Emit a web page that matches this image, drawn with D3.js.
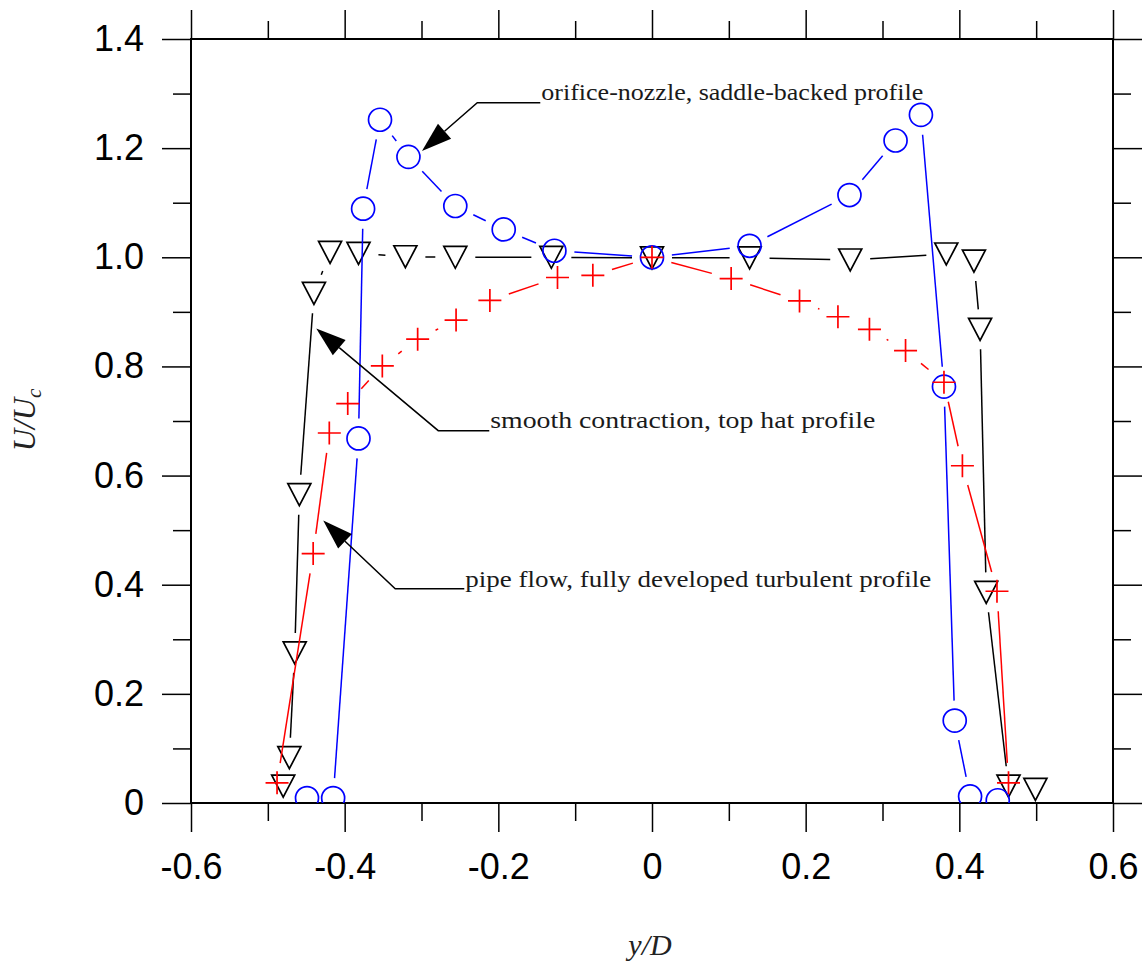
<!DOCTYPE html>
<html><head><meta charset="utf-8">
<script src="https://cdn.jsdelivr.net/npm/d3@7"></script>
<style>body{margin:0;background:#fff}</style>
</head><body>
<svg id="c" width="1146" height="962"></svg>
<script>
// ---- data ----
const orificeX = [-0.449,-0.415,-0.382,-0.376,-0.354,-0.317,-0.256,-0.193,-0.127,0.0,0.127,0.257,0.317,0.350,0.380,0.394,0.414,0.450];
const orificeU = [0.009,0.009,0.668,1.089,1.252,1.184,1.094,1.051,1.012,1.0,1.021,1.114,1.214,1.261,0.763,0.151,0.012,0.005];
const contractionX = [-0.480,-0.472,-0.465,-0.459,-0.440,-0.419,-0.382,-0.321,-0.256,-0.131,0.0,0.127,0.258,0.383,0.419,0.427,0.435,0.464,0.499];
const contractionU = [0.031,0.083,0.275,0.565,0.934,1.009,1.007,1.001,1.0,1.0,0.999,0.999,0.995,1.006,0.993,0.868,0.386,0.031,0.025];
const pipeX = [-0.488,-0.441,-0.420,-0.396,-0.351,-0.305,-0.255,-0.211,-0.123,-0.077,0.0,0.103,0.192,0.242,0.283,0.330,0.380,0.404,0.449,0.464];
const pipeU = [0.037,0.457,0.678,0.732,0.801,0.850,0.885,0.921,0.963,0.967,1.0,0.961,0.920,0.891,0.868,0.829,0.771,0.618,0.388,0.037];
const xTicks = [-0.6,-0.4,-0.2,0,0.2,0.4,0.6];
const xTickLabels = ["-0.6","-0.4","-0.2","0","0.2","0.4","0.6"];
const xMinor = [-0.5,-0.3,-0.1,0.1,0.3,0.5];
const yTicks = [0,0.2,0.4,0.6,0.8,1.0,1.2,1.4];
const yTickLabels = ["0","0.2","0.4","0.6","0.8","1.0","1.2","1.4"];
const yMinor = [0.1,0.3,0.5,0.7,0.9,1.1,1.3];
const annText = ["orifice-nozzle, saddle-backed profile","smooth contraction, top hat profile","pipe flow, fully developed turbulent profile"];
const annTip = [[-0.2994,1.1947],[-0.437,0.8697],[-0.4279,0.5176]];
const annElbow = [[-0.2274,1.2833],[-0.2782,0.6823],[-0.3342,0.3926]];
const annTextPos = [[-0.1441,1.2876],[-0.2105,0.6867],[-0.243,0.3957]];
const annTextLen = [382,385,466];

// ---- layout ----
const L=191, R=1113, T=39, B=803;
const svg = d3.select("#c");
const x = d3.scaleLinear().domain([-0.6,0.6]).range([L,R]);
const y = d3.scaleLinear().domain([0,1.4]).range([B,T]);

svg.append("defs").append("clipPath").attr("id","clip")
  .append("rect").attr("x",L).attr("y",T).attr("width",R-L).attr("height",B-T);

function styleAxis(g){ g.select(".domain").remove(); g.selectAll("line").attr("stroke","#000").attr("stroke-width",1.5); }
const fmtX = d => xTickLabels[xTicks.indexOf(d)];
const fmtY = d => yTickLabels[yTicks.indexOf(d)];

// bottom
svg.append("g").attr("transform",`translate(0,${B})`)
  .call(d3.axisBottom(x).tickValues(xTicks).tickSize(29).tickSizeOuter(0).tickPadding(21).tickFormat(fmtX))
  .call(styleAxis);
svg.append("g").attr("transform",`translate(0,${B})`)
  .call(d3.axisBottom(x).tickValues(xMinor).tickSize(18).tickSizeOuter(0).tickFormat(""))
  .call(styleAxis);
// top
svg.append("g").attr("transform",`translate(0,${T})`)
  .call(d3.axisTop(x).tickValues(xTicks).tickSize(29).tickSizeOuter(0).tickFormat(""))
  .call(styleAxis);
svg.append("g").attr("transform",`translate(0,${T})`)
  .call(d3.axisTop(x).tickValues(xMinor).tickSize(18).tickSizeOuter(0).tickFormat(""))
  .call(styleAxis);
// left
svg.append("g").attr("transform",`translate(${L},0)`)
  .call(d3.axisLeft(y).tickValues(yTicks).tickSize(29).tickSizeOuter(0).tickPadding(18).tickFormat(fmtY))
  .call(styleAxis);
svg.append("g").attr("transform",`translate(${L},0)`)
  .call(d3.axisLeft(y).tickValues(yMinor).tickSize(18).tickSizeOuter(0).tickFormat(""))
  .call(styleAxis);
// right
svg.append("g").attr("transform",`translate(${R},0)`)
  .call(d3.axisRight(y).tickValues(yTicks).tickSize(29).tickSizeOuter(0).tickFormat(""))
  .call(styleAxis);
svg.append("g").attr("transform",`translate(${R},0)`)
  .call(d3.axisRight(y).tickValues(yMinor).tickSize(18).tickSizeOuter(0).tickFormat(""))
  .call(styleAxis);

svg.selectAll(".tick text").attr("font-family","'Liberation Sans',Arial,sans-serif").attr("font-size",36).attr("fill","#000");

svg.append("rect").attr("x",L).attr("y",T).attr("width",R-L).attr("height",B-T)
  .attr("fill","none").attr("stroke","#000").attr("stroke-width",2);

// ---- series ----
const GAP = 20;
function drawSeries(xs, us, color, marker){
  const g = svg.append("g").attr("clip-path","url(#clip)");
  const pts = xs.map((v,i)=>[x(v), y(us[i])]);
  for(let i=0;i<pts.length-1;i++){
    const [x0,y0]=pts[i],[x1,y1]=pts[i+1];
    const d=Math.hypot(x1-x0,y1-y0);
    if(d<=2*GAP) continue;
    const ux=(x1-x0)/d, uy=(y1-y0)/d;
    g.append("line").attr("x1",x0+ux*GAP).attr("y1",y0+uy*GAP).attr("x2",x1-ux*GAP).attr("y2",y1-uy*GAP)
      .attr("stroke",color).attr("stroke-width",1.5);
  }
  pts.forEach(([px,py])=>{
    if(marker==="circle"){
      g.append("circle").attr("cx",px).attr("cy",py).attr("r",11.5).attr("fill","none").attr("stroke",color).attr("stroke-width",1.7);
    } else if(marker==="tri"){
      const w=11.5,h=11;
      g.append("path").attr("d",`M${px-w},${py-h}L${px+w},${py-h}L${px},${py+h}Z`).attr("fill","none").attr("stroke",color).attr("stroke-width",1.7);
    } else {
      const a=11.5;
      g.append("path").attr("d",`M${px-a},${py}L${px+a},${py}M${px},${py-a}L${px},${py+a}`).attr("stroke",color).attr("stroke-width",1.7);
    }
  });
}
drawSeries(contractionX, contractionU, "#000", "tri");
drawSeries(orificeX, orificeU, "#0000ff", "circle");
drawSeries(pipeX, pipeU, "#ff0000", "cross");

// ---- annotations ----
annText.forEach((t,i)=>{
  const tip=[x(annTip[i][0]), y(annTip[i][1])];
  const el=[x(annElbow[i][0]), y(annElbow[i][1])];
  const tp=[x(annTextPos[i][0]), y(annTextPos[i][1])];
  const dx=tip[0]-el[0], dy=tip[1]-el[1], d=Math.hypot(dx,dy), ux=dx/d, uy=dy/d;
  const hl=30, hw=10;
  const bx=tip[0]-ux*hl, by=tip[1]-uy*hl;
  svg.append("path").attr("d",`M${tp[0]-1},${el[1]}L${el[0]},${el[1]}L${bx},${by}`)
    .attr("fill","none").attr("stroke","#000").attr("stroke-width",1.5);
  svg.append("path").attr("d",`M${tip[0]},${tip[1]}L${bx-uy*hw},${by+ux*hw}L${bx+uy*hw},${by-ux*hw}Z`).attr("fill","#000");
  svg.append("text").attr("x",tp[0]).attr("y",tp[1]).text(t)
    .attr("font-family","'Liberation Serif','Times New Roman',serif").attr("font-size",24)
    .attr("textLength",annTextLen[i]).attr("lengthAdjust","spacingAndGlyphs").attr("fill","#1a1a1a");
});

// ---- axis titles ----
const yl = svg.append("text").attr("transform","translate(35,420) rotate(-90)").attr("text-anchor","middle")
  .attr("font-family","'Liberation Serif','Times New Roman',serif").attr("font-style","italic").attr("font-size",31).attr("fill","#222");
yl.append("tspan").text("U/U");
yl.append("tspan").attr("font-size",21).attr("dy",6).text("c");
svg.append("text").attr("x",650).attr("y",955).attr("text-anchor","middle")
  .attr("font-family","'Liberation Serif','Times New Roman',serif").attr("font-style","italic").attr("font-size",30).attr("fill","#222")
  .text("y/D");
</script>
</body></html>
